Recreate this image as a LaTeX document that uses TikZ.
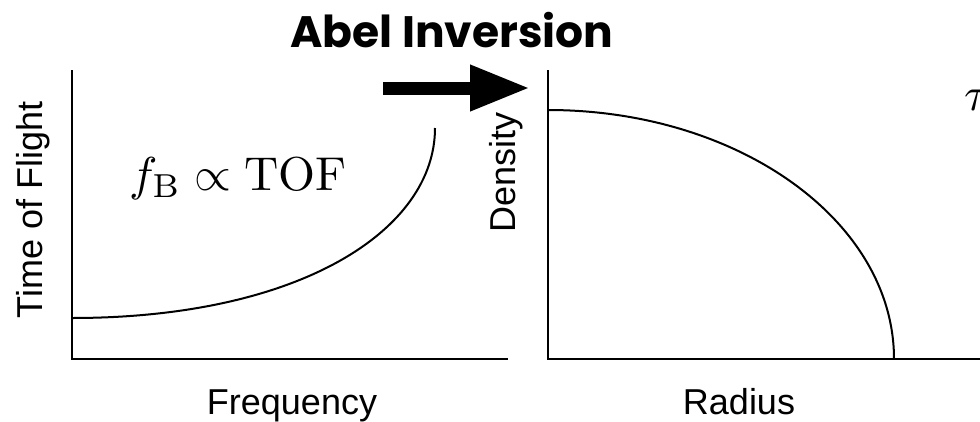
\documentclass[tikz,border=0pt]{standalone}
\usepackage{amsmath,amssymb}
\usepackage{graphicx}
\usepackage{fontspec}
\newfontfamily\titlefont{Poppins}
\newfontfamily\labelfont{Liberation Sans}
\usetikzlibrary{arrows.meta}

\begin{document}
\begin{tikzpicture}[x=1pt,y=-1pt,line width=2pt,
    axislabel/.style={font=\labelfont\fontsize{36}{40}\selectfont,anchor=base},
    mathlabel/.style={anchor=base west,inner sep=0pt}]
    \useasboundingbox (0,0) rectangle (980,421);
    \clip (0,0) rectangle (980,421);
    % corners of the two plots
    \coordinate (lefttop) at (72,70);
    \coordinate (leftorig) at (72,359);
    \coordinate (leftend) at (508,359);
    \coordinate (righttop) at (548,70);
    \coordinate (rightorig) at (548,359);
    \coordinate (rightend) at (985,359);
    % axes
    \draw (lefttop) -- (leftorig) -- (leftend);
    \draw (righttop) -- (rightorig) -- (rightend);
    % time of flight against frequency
    \draw (72,318) .. controls (300,318) and (435,230) .. (435,128);
    % density against radius
    \draw (548,110) arc[start angle=-90,end angle=0,x radius=346,y radius=249];
    % big arrow with title
    \node[font=\titlefont\bfseries\fontsize{44}{48}\selectfont,anchor=base] (title) at (452,47) {Abel Inversion};
    \coordinate (arrowtail) at (383,88);
    \coordinate (arrowtip) at (530,88);
    \draw[line width=13pt,-{Triangle[length=60pt,width=43pt]}] (arrowtail) -- (arrowtip);
    % axis labels
    \node[axislabel] (freq) at (292,414) {Frequency};
    \node[axislabel] (radius) at (739,414) {Radius};
    \node[axislabel,rotate=90] (tof) at (42,210) {Time of Flight};
    \node[axislabel,rotate=90] (dens) at (515,172) {Density};
    % formulas
    \node[mathlabel] (prop) at (128,190) {\scalebox{4.75}{$f_{\mathrm{B}} \propto \mathrm{TOF}$}};
    \node[mathlabel] (tau) at (963,110) {\scalebox{4.75}{$\tau$}};
\end{tikzpicture}
\end{document}
